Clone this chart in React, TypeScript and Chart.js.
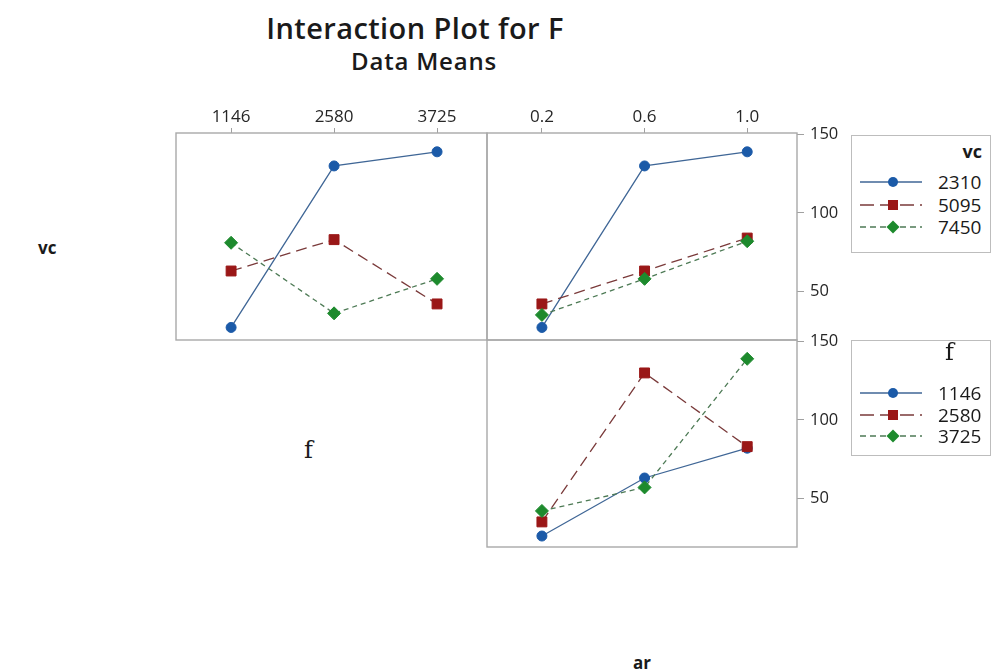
import React, { useEffect, useRef } from "react";
import { Chart, registerables } from "chart.js";
Chart.register(...registerables);

// ---- data ----
const fLevels = ["1146", "2580", "3725"];
const arLevels = ["0.2", "0.6", "1.0"];
const vcLevels = ["2310", "5095", "7450"];
const yTickValues = [50, 100, 150];

// mean F, vc lines across f
const vc2310ByF = [27, 130, 139];
const vc5095ByF = [63, 83, 42];
const vc7450ByF = [81, 36, 58];
// mean F, vc lines across ar
const vc2310ByAr = [27, 130, 139];
const vc5095ByAr = [42, 63, 84];
const vc7450ByAr = [35, 58, 82];
// mean F, f lines across ar
const f1146ByAr = [26, 63, 82];
const f2580ByAr = [35, 130, 83];
const f3725ByAr = [42, 57, 139];

const SERIES_STYLES = [
  { color: "#1b5aa8", line: "#3f6696", dash: [] as number[], point: "circle", radius: 5 },
  { color: "#9a1717", line: "#7a3a3a", dash: [11, 6], point: "rect", radius: 7 },
  { color: "#1d8a2d", line: "#4d7a55", dash: [5, 4], point: "rectRot", radius: 6.5 },
];

const FONT = "'Open Sans', 'Noto Sans', sans-serif";
const SERIF = "'DejaVu Serif', 'Liberation Serif', serif";

const boxPlugin = {
  id: "panelBox",
  afterDraw(chart: any) {
    const { ctx, chartArea } = chart;
    ctx.save();
    ctx.strokeStyle = "#a9a9a9";
    ctx.lineWidth = 1.4;
    ctx.strokeRect(chartArea.left, chartArea.top, chartArea.right - chartArea.left, chartArea.bottom - chartArea.top);
    ctx.restore();
  },
};

type PanelProps = {
  left: number;
  top: number;
  width: number;
  height: number;
  padding: { left: number; right: number; top: number; bottom: number };
  xLabels: string[];
  series: number[][];
  showX: boolean;
  showY: boolean;
};

function zeroPad(s: any) {
  s.paddingTop = 0;
  s.paddingBottom = 0;
  s.paddingLeft = 0;
  s.paddingRight = 0;
}

function Panel(props: PanelProps) {
  const ref = useRef<HTMLCanvasElement | null>(null);
  useEffect(() => {
    if (!ref.current) return;
    const datasets = props.series.map((vals, si) => {
      const s = SERIES_STYLES[si];
      return {
        data: vals.map((v, i) => ({ x: i, y: v })),
        borderColor: s.line,
        backgroundColor: s.color,
        pointBackgroundColor: s.color,
        pointBorderColor: s.color,
        pointBorderWidth: 1,
        pointStyle: s.point,
        pointRadius: s.radius,
        borderWidth: 1.3,
        borderDash: s.dash,
        tension: 0,
        fill: false,
        order: 3 - si,
      };
    });
    const chart = new Chart(ref.current, {
      type: "line",
      data: { datasets } as any,
      plugins: [boxPlugin],
      options: {
        animation: false,
        responsive: false,
        maintainAspectRatio: false,
        layout: { padding: props.padding, autoPadding: false },
        plugins: { legend: { display: false }, tooltip: { enabled: false }, title: { display: false } },
        scales: {
          x: {
            type: "linear",
            position: "top",
            display: props.showX,
            min: -0.535,
            max: 2.485,
            afterBuildTicks: (s: any) => {
              s.ticks = props.xLabels.map((_, i) => ({ value: i }));
            },
            afterFit: (s: any) => {
              s.height = props.showX ? 33 : 0;
              zeroPad(s);
            },
            ticks: {
              callback: (v: any) => props.xLabels[v] ?? "",
              font: { family: FONT, size: 17 },
              color: "#262626",
              padding: 1,
              maxRotation: 0,
              autoSkip: false,
            },
            grid: { display: true, drawOnChartArea: false, drawTicks: true, tickLength: 5, color: "#a0a0a0" },
            border: { display: false },
          },
          y: {
            type: "linear",
            position: "right",
            display: props.showY,
            min: 19,
            max: 151,
            afterBuildTicks: (s: any) => {
              s.ticks = yTickValues.map((v) => ({ value: v }));
            },
            afterFit: (s: any) => {
              s.width = props.showY ? 50 : 0;
              zeroPad(s);
            },
            ticks: {
              font: { family: FONT, size: 16.5 },
              color: "#262626",
              padding: 6,
              autoSkip: false,
            },
            grid: { display: true, drawOnChartArea: false, drawTicks: true, tickLength: 7, color: "#a0a0a0" },
            border: { display: false },
          },
        },
      } as any,
    });
    return () => chart.destroy();
  }, []);
  return (
    <canvas
      ref={ref}
      width={props.width}
      height={props.height}
      style={{ position: "absolute", left: props.left, top: props.top, width: props.width, height: props.height }}
    />
  );
}

function LegendSwatch({ si }: { si: number }) {
  const s = SERIES_STYLES[si];
  const cx = 33;
  const cy = 8;
  let marker: React.ReactNode = null;
  if (s.point === "circle") marker = <circle cx={cx} cy={cy} r={5} fill={s.color} />;
  else if (s.point === "rect") marker = <rect x={cx - 5} y={cy - 5} width={10} height={10} fill={s.color} />;
  else
    marker = (
      <polygon points={`${cx},${cy - 6.5} ${cx + 6.5},${cy} ${cx},${cy + 6.5} ${cx - 6.5},${cy}`} fill={s.color} />
    );
  return (
    <svg width={64} height={16} style={{ display: "block" }}>
      <line
        x1={0}
        y1={cy}
        x2={62}
        y2={cy}
        stroke={s.line}
        strokeWidth={1.4}
        strokeDasharray={s.dash.length ? (si === 1 ? "14 6" : "6 4") : undefined}
      />
      {marker}
    </svg>
  );
}

function LegendBox(props: {
  left: number;
  top: number;
  width: number;
  height: number;
  header: string;
  headerStyle: React.CSSProperties;
  labels: string[];
  rowYs: number[];
}) {
  return (
    <div
      style={{
        position: "absolute",
        left: props.left,
        top: props.top,
        width: props.width,
        height: props.height,
        border: "1px solid #bdbdbd",
        boxSizing: "border-box",
        background: "#fff",
      }}
    >
      <div style={{ position: "absolute", ...props.headerStyle }}>{props.header}</div>
      {props.labels.map((lab, i) => (
        <div key={lab} style={{ position: "absolute", left: 8, top: props.rowYs[i] - 8, height: 16 }}>
          <LegendSwatch si={i} />
          <div
            style={{
              position: "absolute",
              left: 78,
              top: -5,
              fontFamily: FONT,
              fontSize: 19,
              lineHeight: "26px",
              color: "#1a1a1a",
            }}
          >
            {lab}
          </div>
        </div>
      ))}
    </div>
  );
}

export default function App() {
  return (
    <div style={{ position: "fixed", left: 0, top: 0, width: 991, height: 671, background: "#fff", overflow: "hidden" }}>
      <div
        style={{
          position: "absolute",
          left: 0,
          width: 830,
          top: 9,
          textAlign: "center",
          fontFamily: FONT,
          fontWeight: 600,
          fontSize: 29,
          letterSpacing: 0.4,
          color: "#1a1a1a",
          lineHeight: "38px",
        }}
      >
        Interaction Plot for F
      </div>
      <div
        style={{
          position: "absolute",
          left: 0,
          width: 848,
          top: 45,
          textAlign: "center",
          fontFamily: FONT,
          fontWeight: 600,
          fontSize: 24,
          letterSpacing: 0.8,
          color: "#1a1a1a",
          lineHeight: "32px",
        }}
      >
        Data Means
      </div>

      <div style={{ position: "absolute", left: 38, top: 236, fontFamily: FONT, fontWeight: 700, fontSize: 17, color: "#1a1a1a" }}>
        vc
      </div>
      <div style={{ position: "absolute", left: 304, top: 436, fontFamily: SERIF, fontSize: 24, color: "#1a1a1a" }}>f</div>
      <div style={{ position: "absolute", left: 633, top: 651, fontFamily: FONT, fontWeight: 700, fontSize: 17, color: "#1a1a1a" }}>
        ar
      </div>

      <Panel
        left={170}
        top={100}
        width={320}
        height={245}
        padding={{ left: 6, right: 3, top: 0, bottom: 5 }}
        xLabels={fLevels}
        series={[vc2310ByF, vc5095ByF, vc7450ByF]}
        showX={true}
        showY={false}
      />
      <Panel
        left={484}
        top={100}
        width={380}
        height={245}
        padding={{ left: 3, right: 17, top: 0, bottom: 5 }}
        xLabels={arLevels}
        series={[vc2310ByAr, vc5095ByAr, vc7450ByAr]}
        showX={true}
        showY={true}
      />
      <Panel
        left={484}
        top={328}
        width={380}
        height={225}
        padding={{ left: 3, right: 17, top: 12, bottom: 6 }}
        xLabels={arLevels}
        series={[f1146ByAr, f2580ByAr, f3725ByAr]}
        showX={false}
        showY={true}
      />

      <LegendBox
        left={851}
        top={135}
        width={140}
        height={118}
        header="vc"
        headerStyle={{ right: 8, top: 3, fontFamily: FONT, fontWeight: 700, fontSize: 18, color: "#1a1a1a" }}
        labels={vcLevels}
        rowYs={[46, 69, 91]}
      />
      <LegendBox
        left={851}
        top={340}
        width={140}
        height={116}
        header="f"
        headerStyle={{ left: 93, top: -3, fontFamily: SERIF, fontSize: 24, color: "#1a1a1a" }}
        labels={fLevels}
        rowYs={[52, 74, 95]}
      />
    </div>
  );
}
